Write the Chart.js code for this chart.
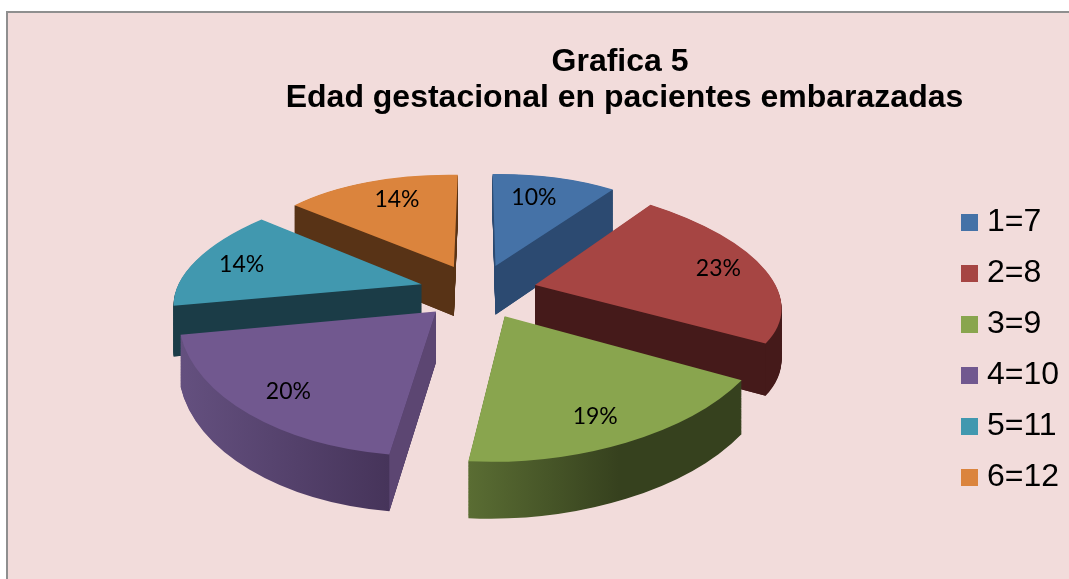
<!DOCTYPE html>
<html lang="es">
<head>
<meta charset="utf-8">
<title>Grafica 5</title>
<script src="https://cdn.jsdelivr.net/npm/chart.js@4"></script>
<style>
html,body{margin:0;padding:0;background:#fff;overflow:hidden;width:1069px;height:579px}
#frame{position:absolute;left:6px;top:11px;width:1100px;height:620px;background:#F2DCDB;border:2px solid #8f8f8f;box-sizing:border-box}
#c{position:absolute;left:0;top:0}
</style>
</head>
<body>
<div id="frame"></div>
<canvas id="c" width="1069" height="579"></canvas>
<script>
const titleLines = ['Grafica 5 ', 'Edad gestacional en pacientes embarazadas'];
const categories = ['1=7', '2=8', '3=9', '4=10', '5=11', '6=12'];
const percentValues = [10, 23, 19, 20, 14, 14];

const topColors  = ['#4572A7', '#A64543', '#89A54E', '#71588F', '#4198AF', '#DB843D'];
const faceColors = ['#2C4A71', '#451A1A', '#36411E', '#5C4672', '#1B3C47', '#583316'];
const rimLeft    = ['#2C4A71', '#451A1A', '#5A6D33', '#64507F', '#1B3C47', '#583316'];
const rimRight   = ['#2C4A71', '#451A1A', '#36411E', '#46345A', '#1B3C47', '#583316'];
const labelRadius = [0.71, 0.795, 0.815, 0.81, 0.78, 0.72];
const labelAcross = [0.45, 0.5, 0.535, 0.48, 0.44, 0.54];

// Perspective camera used to turn the flat pie into the tilted 3D one
const view = {cx: 478, cy: 291, sx: 246, sy: 114, perspY: 0.16, perspBack: 0.2, perspFront: 0.13, lean: 4, depth: 50, perspDepth: 0.1, explode: 0.24, labelLift: 5};

function project(u, v, down) {
  const gx = 1 / (1 - (v < 0 ? view.perspBack : view.perspFront) * v);
  const gy = 1 / (1 - view.perspY * v);
  const gd = 1 / (1 - view.perspDepth * v);
  return {x: view.cx + u * view.sx * gx - view.lean * Math.max(v, 0), y: view.cy + v * view.sy * gy + (down ? view.depth * gd : 0)};
}

function sliceGeometry(arc) {
  const p = arc.getProps(['x', 'y', 'startAngle', 'endAngle', 'outerRadius'], true);
  const mid = (p.startAngle + p.endAngle) / 2;
  const ex = view.explode * Math.cos(mid), ey = view.explode * Math.sin(mid);
  const plane = a => [ex + Math.cos(a), ey + Math.sin(a)];
  return {p, mid, ex, ey, startTip: plane(p.startAngle), endTip: plane(p.endAngle)};
}

function matrixFor(geo, down) {
  const {p, ex, ey, startTip, endTip} = geo;
  const R = p.outerRadius;
  const A = project(ex, ey, down), B = project(startTip[0], startTip[1], down), C = project(endTip[0], endTip[1], down);
  const u1x = R * Math.cos(p.startAngle), u1y = R * Math.sin(p.startAngle);
  const u2x = R * Math.cos(p.endAngle), u2y = R * Math.sin(p.endAngle);
  const det = u1x * u2y - u2x * u1y;
  const s1x = B.x - A.x, s1y = B.y - A.y, s2x = C.x - A.x, s2y = C.y - A.y;
  const a = (s1x * u2y - s2x * u1y) / det;
  const c = (-s1x * u2x + s2x * u1x) / det;
  const b = (s1y * u2y - s2y * u1y) / det;
  const d = (-s1y * u2x + s2y * u1x) / det;
  return {a, b, c, d, e: A.x - a * p.x - c * p.y, f: A.y - b * p.x - d * p.y};
}

function drawSlice(ctx, arc, i) {
  const geo = sliceGeometry(arc);
  const top = matrixFor(geo, false), bottom = matrixFor(geo, true);
  const withColor = col => {
    const el = Object.create(arc);
    el.options = Object.assign({}, arc.options, {backgroundColor: col, borderWidth: 0, offset: 0});
    return el;
  };
  // rim: stacked copies of the library's arc between bottom and top planes
  const xs = [];
  for (let k = 0; k <= 24; k++) {
    const a = geo.p.startAngle + (geo.p.endAngle - geo.p.startAngle) * k / 24;
    xs.push(project(geo.ex + Math.cos(a), geo.ey + Math.sin(a), true).x);
  }
  const x0 = Math.min(...xs), x1 = Math.max(...xs);
  const steps = 70;
  for (let s = 0; s < steps; s++) {
    const t = 1 - s / steps;
    const m = {};
    for (const key of 'abcdef') m[key] = top[key] + (bottom[key] - top[key]) * t;
    const n = m.a * m.a + m.c * m.c;
    const t0 = (x0 - m.e) / n, t1 = (x1 - m.e) / n;
    const grad = ctx.createLinearGradient(t0 * m.a, t0 * m.c, t1 * m.a, t1 * m.c);
    grad.addColorStop(0, rimLeft[i]);
    grad.addColorStop(i === 2 ? 0.55 : 1, rimRight[i]);
    grad.addColorStop(1, rimRight[i]);
    ctx.save();
    ctx.transform(m.a, m.b, m.c, m.d, m.e, m.f);
    withColor(grad).draw(ctx);
    ctx.restore();
  }
  // flat cut faces that look towards the viewer
  const apexT = project(geo.ex, geo.ey, false), apexB = project(geo.ex, geo.ey, true);
  const tips = [geo.startTip, geo.endTip];
  tips.forEach((tip, idx) => {
    const other = tips[1 - idx];
    const T = project(tip[0], tip[1], false), Bt = project(tip[0], tip[1], true), O = project(other[0], other[1], false);
    const ex = T.x - apexT.x, ey = T.y - apexT.y;
    const crossDown = ex * 1;
    const crossIn = ex * (O.y - apexT.y) - ey * (O.x - apexT.x);
    if (crossDown * crossIn < 0) {
      ctx.beginPath();
      ctx.moveTo(apexT.x, apexT.y);
      ctx.lineTo(T.x, T.y);
      ctx.lineTo(Bt.x, Bt.y);
      ctx.lineTo(apexB.x, apexB.y);
      ctx.closePath();
      ctx.fillStyle = faceColors[i];
      ctx.fill();
    }
  });
  // top face
  ctx.save();
  ctx.transform(top.a, top.b, top.c, top.d, top.e, top.f);
  withColor(topColors[i]).draw(ctx);
  ctx.restore();
}

const pie3d = {
  id: 'pie3d',
  beforeDatasetDraw(chart, args) {
    const ctx = chart.ctx;
    const arcs = chart.getDatasetMeta(args.index).data;
    const order = arcs.map((arc, i) => {
      const g = sliceGeometry(arc);
      return {i, y: project(g.ex, g.ey, false).y};
    }).sort((a, b) => a.y - b.y);
    order.forEach(o => drawSlice(ctx, arcs[o.i], o.i));
    ctx.save();
    ctx.fillStyle = '#000';
    ctx.font = '23px Lato';
    ctx.textAlign = 'center';
    ctx.textBaseline = 'middle';
    arcs.forEach((arc, i) => {
      const g = sliceGeometry(arc);
      const m = matrixFor(g, false);
      const r = labelRadius[i] * g.p.outerRadius;
      const ang = g.p.startAngle + (g.p.endAngle - g.p.startAngle) * labelAcross[i];
      const ux = g.p.x + r * Math.cos(ang), uy = g.p.y + r * Math.sin(ang);
      ctx.fillText(percentValues[i] + '%', m.a * ux + m.c * uy + m.e, m.b * ux + m.d * uy + m.f - view.labelLift);
    });
    ctx.restore();
    return false;
  }
};

const swatches = topColors.map(col => {
  const s = document.createElement('canvas');
  s.width = 17; s.height = 17;
  const g = s.getContext('2d');
  g.fillStyle = col;
  g.fillRect(0, 0, 17, 17);
  return s;
});

new Chart(document.getElementById('c'), {
  type: 'pie',
  data: {labels: categories, datasets: [{data: percentValues, backgroundColor: topColors, borderWidth: 0}]},
  plugins: [pie3d],
  options: {
    responsive: false,
    animation: false,
    layout: {padding: {left: 180, right: 0, top: 44, bottom: 0}},
    plugins: {
      tooltip: {enabled: false},
      title: {
        display: true,
        text: titleLines,
        color: '#000',
        font: {family: '"Liberation Sans"', size: 32, weight: 'bold', lineHeight: 1.125},
        padding: {top: 0, bottom: 5}
      },
      legend: {
        position: 'right',
        fullSize: false,
        labels: {
          usePointStyle: true,
          pointStyleWidth: 2,
          boxHeight: 17,
          padding: 19,
          color: '#000',
          font: {family: '"Liberation Sans"', size: 32},
          generateLabels: () => categories.map((text, i) => ({
            text, index: i, hidden: false, fillStyle: topColors[i], strokeStyle: topColors[i], lineWidth: 0, pointStyle: swatches[i]
          }))
        }
      }
    }
  }
});
</script>
</body>
</html>
